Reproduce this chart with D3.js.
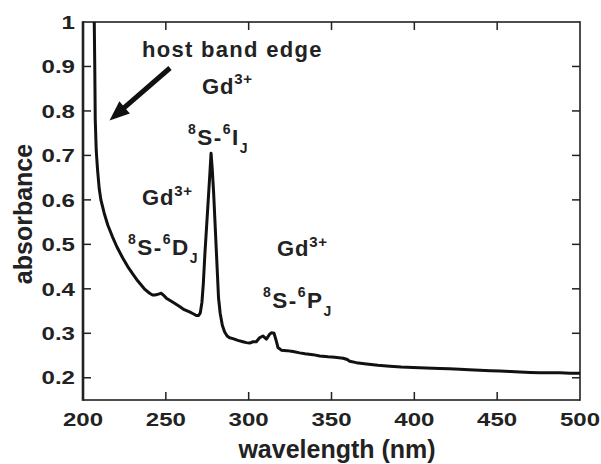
<!DOCTYPE html>
<html>
<head>
<meta charset="utf-8">
<script src="https://cdn.jsdelivr.net/npm/d3@7"></script>
<style>
  html, body { margin: 0; padding: 0; background: #fff; }
  svg text { font-family: "Liberation Sans", Arial, sans-serif; font-weight: bold; fill: #222; }
</style>
</head>
<body>
<div id="chart"></div>
<script>
// wavelength (nm) and absorbance
const wavelength = [206.8, 207.1, 207.4, 208.0, 208.8, 209.8, 210.8, 212.8, 215, 217.8, 220.5, 223.9, 227, 229.9,
  233, 237, 240.2, 242, 243.5, 245.5, 247.3, 248.5, 250.3, 253.3, 255.5, 258.3, 261.1, 264.3, 266.5, 268.4, 269.8,
  270.8, 271.8, 272.6, 273.6, 274.6, 275.6, 276.6, 277.3, 278, 278.8, 279.8, 280.8, 281.8, 282.8, 284.1, 285.5, 287,
  288.5, 290.5, 293.5, 296.5, 298.6, 300.6, 302.6, 304.6, 306.6, 308.6, 310.7, 312.7, 313.7, 315.3, 316.5, 317.7,
  319.7, 323, 326.8, 330.8, 334, 338.8, 342.9, 347.9, 352, 357, 359.5, 361, 365, 371.1, 378, 385.2, 392, 399.2, 407,
  415.4, 421, 427.5, 433, 439.5, 446, 451.6, 458, 463.7, 470, 475.8, 482, 487.9, 494, 500];
const absorbance = [1.0, 0.9, 0.78, 0.71, 0.667, 0.625, 0.6, 0.57, 0.543, 0.517, 0.494, 0.47, 0.45, 0.434,
  0.418, 0.4, 0.39, 0.386, 0.386, 0.388, 0.39, 0.386, 0.379, 0.372, 0.367, 0.36, 0.353, 0.348, 0.344, 0.34, 0.34,
  0.346, 0.37, 0.41, 0.48, 0.54, 0.6, 0.66, 0.705, 0.67, 0.62, 0.54, 0.46, 0.38, 0.345, 0.318, 0.303, 0.294,
  0.29, 0.288, 0.284, 0.281, 0.279, 0.278, 0.281, 0.281, 0.29, 0.294, 0.287, 0.298, 0.301, 0.3, 0.285, 0.268,
  0.262, 0.261, 0.259, 0.256, 0.254, 0.252, 0.249, 0.247, 0.246, 0.244, 0.241, 0.237, 0.234, 0.231, 0.228, 0.226, 0.224, 0.223, 0.222,
  0.221, 0.22, 0.219, 0.218, 0.217, 0.216, 0.215, 0.214, 0.213, 0.212, 0.211, 0.211, 0.211, 0.21, 0.21];

const xTicks = [200, 250, 300, 350, 400, 450, 500];
const yTicks = [0.2, 0.3, 0.4, 0.5, 0.6, 0.7, 0.8, 0.9, 1];
const yTickLabels = ['0.2', '0.3', '0.4', '0.5', '0.6', '0.7', '0.8', '0.9', '1'];

// annotation labels
const transitions = [
  { pre: '8', a: 'S-', sup: '6', b: 'I', sub: 'J', x: 188, y: 145 },
  { pre: '8', a: 'S-', sup: '6', b: 'D', sub: 'J', x: 128, y: 255 },
  { pre: '8', a: 'S-', sup: '6', b: 'P', sub: 'J', x: 263, y: 308 },
];
const ionLabels = [
  { x: 202, y: 93.5 },
  { x: 142, y: 205 },
  { x: 277, y: 256 },
];

const width = 601;
const height = 464;
const margin = { top: 22, right: 21, bottom: 64, left: 83 };
const chartWidth = width - margin.left - margin.right;
const chartHeight = height - margin.top - margin.bottom;
const plotLeft = margin.left;
const plotRight = margin.left + chartWidth;
const plotTop = margin.top;
const plotBottom = margin.top + chartHeight;

const svg = d3.select('#chart')
  .append('svg')
  .attr('width', width)
  .attr('height', height);

const x = d3.scaleLinear().domain([200, 500]).range([plotLeft, plotRight]);
const y = d3.scaleLinear().domain([0.15, 1]).range([plotBottom, plotTop]);

// frame as solid bars (left spine heavier)
const frame = svg.append('g').attr('fill', '#222');
frame.append('rect').attr('x', plotLeft - 1.3).attr('y', plotTop - 0.8).attr('width', 2.6).attr('height', chartHeight + 1.6);
frame.append('rect').attr('x', plotRight - 0.8).attr('y', plotTop - 0.8).attr('width', 1.6).attr('height', chartHeight + 1.6);
frame.append('rect').attr('x', plotLeft).attr('y', plotTop - 0.8).attr('width', chartWidth).attr('height', 1.6);
frame.append('rect').attr('x', plotLeft).attr('y', plotBottom - 0.8).attr('width', chartWidth).attr('height', 1.6);

// inward ticks on all four sides
const tick = 8;
const innerX = xTicks.slice(1, -1);
const innerY = yTicks.slice(0, -1);
frame.selectAll('rect.xb').data(innerX).enter().append('rect')
  .attr('class', 'xb')
  .attr('x', d => x(d) - 0.75).attr('y', plotBottom - tick).attr('width', 1.5).attr('height', tick);
frame.selectAll('rect.xt').data(innerX).enter().append('rect')
  .attr('class', 'xt')
  .attr('x', d => x(d) - 0.75).attr('y', plotTop).attr('width', 1.5).attr('height', tick);
frame.selectAll('rect.yl').data(innerY).enter().append('rect')
  .attr('class', 'yl')
  .attr('x', plotLeft).attr('y', d => y(d) - 0.75).attr('width', tick).attr('height', 1.5);
frame.selectAll('rect.yr').data(innerY).enter().append('rect')
  .attr('class', 'yr')
  .attr('x', plotRight - tick).attr('y', d => y(d) - 0.75).attr('width', tick).attr('height', 1.5);

// tick labels, drawn wide like the original
const stretch = 1.3;
svg.selectAll('text.xlab')
  .data(xTicks)
  .enter()
  .append('text')
  .attr('class', 'xlab')
  .attr('text-anchor', 'middle')
  .attr('font-size', 18.5)
  .attr('transform', d => `translate(${x(d)}, ${plotBottom + 25.5}) scale(${stretch}, 1)`)
  .text(d => d);

svg.selectAll('text.ylab')
  .data(yTicks)
  .enter()
  .append('text')
  .attr('class', 'ylab')
  .attr('text-anchor', 'end')
  .attr('font-size', 18.5)
  .attr('transform', d => `translate(${plotLeft - 8}, ${y(d) + 6.7}) scale(${stretch}, 1)`)
  .text((d, i) => yTickLabels[i]);

// axis titles
svg.append('text')
  .attr('x', 337)
  .attr('y', 457.5)
  .attr('text-anchor', 'middle')
  .attr('font-size', 25)
  .text('wavelength (nm)');

svg.append('text')
  .attr('transform', 'translate(32, 214) rotate(-90)')
  .attr('text-anchor', 'middle')
  .attr('font-size', 25)
  .text('absorbance');

// spectrum
const line = d3.line()
  .x((d, i) => x(wavelength[i]))
  .y(d => y(d));

svg.append('path')
  .datum(absorbance)
  .attr('fill', 'none')
  .attr('stroke', '#111')
  .attr('stroke-width', 3)
  .attr('stroke-linejoin', 'round')
  .attr('d', line);

// annotations
svg.append('text')
  .attr('x', 142)
  .attr('y', 57)
  .attr('font-size', 22)
  .attr('letter-spacing', 1.3)
  .text('host band edge');

// arrow: tail -> tip, head drawn as a filled triangle
const tail = [170, 68];
const tip = [109.5, 120.5];
const ang = Math.atan2(tip[1] - tail[1], tip[0] - tail[0]);
const headLen = 20;
const headHalf = 8;
const base = [tip[0] - headLen * Math.cos(ang), tip[1] - headLen * Math.sin(ang)];
svg.append('line')
  .attr('x1', tail[0]).attr('y1', tail[1])
  .attr('x2', base[0] + 2 * Math.cos(ang)).attr('y2', base[1] + 2 * Math.sin(ang))
  .attr('stroke', '#111')
  .attr('stroke-width', 5);
svg.append('path')
  .attr('d', d3.line()([
    tip,
    [base[0] - headHalf * Math.sin(ang), base[1] + headHalf * Math.cos(ang)],
    [base[0] + headHalf * Math.sin(ang), base[1] - headHalf * Math.cos(ang)],
  ]) + 'Z')
  .attr('fill', '#111');

ionLabels.forEach(d => {
  const t = svg.append('text')
    .attr('x', d.x)
    .attr('y', d.y)
    .attr('font-size', 22)
    .attr('letter-spacing', 0.8);
  t.append('tspan').text('Gd');
  t.append('tspan').attr('font-size', 15).attr('dy', -9.5).text('3+');
});

transitions.forEach(d => {
  const t = svg.append('text')
    .attr('x', d.x)
    .attr('y', d.y)
    .attr('font-size', 22.5)
    .attr('letter-spacing', 1.5);
  t.append('tspan').attr('font-size', 14).attr('dy', -11).text(d.pre);
  t.append('tspan').attr('dy', 11).text(d.a);
  t.append('tspan').attr('font-size', 14).attr('dy', -11).text(d.sup);
  t.append('tspan').attr('dy', 11).text(d.b);
  t.append('tspan').attr('font-size', 14).attr('dy', 8).text(d.sub);
});
</script>
</body>
</html>
